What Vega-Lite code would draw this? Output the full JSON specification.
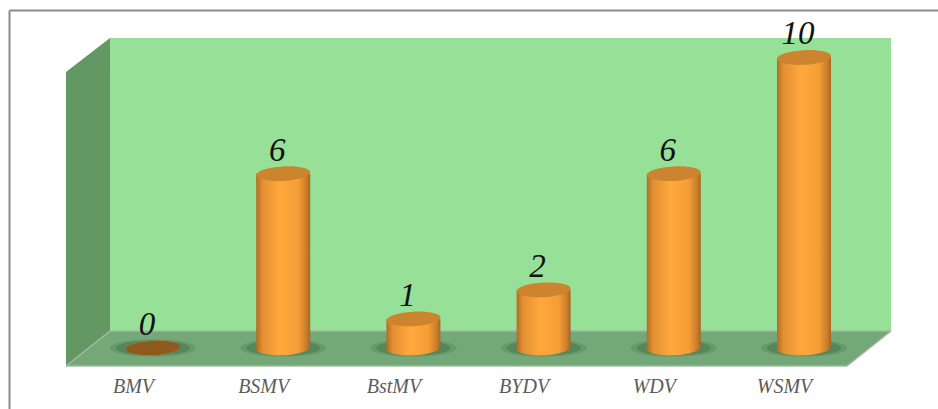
{
  "$schema": "https://vega.github.io/schema/vega-lite/v6.json",
  "width": 938,
  "height": 409,
  "padding": 0,
  "autosize": "none",
  "background": "#ffffff",
  "config": {"view": {"stroke": null}, "scale": {"continuousPadding": 0}},
  "data": {"name": "viruses"},
  "datasets": {
    "viruses": [
      {"virus": "BMV", "index": 0, "value": 0},
      {"virus": "BSMV", "index": 1, "value": 6},
      {"virus": "BstMV", "index": 2, "value": 1},
      {"virus": "BYDV", "index": 3, "value": 2},
      {"virus": "WDV", "index": 4, "value": 6},
      {"virus": "WSMV", "index": 5, "value": 10}
    ],
    "sideWall": [
      {"x": -0.6682, "top": 9.5009, "bottom": -0.6196},
      {"x": -0.3303, "top": 10.6713, "bottom": 0.5852}
    ],
    "backWall": [
      {"left": -0.3303, "right": 5.6682, "top": 10.6713, "bottom": 0.5852}
    ],
    "floor": [
      {"depth": -0.6196, "left": -0.6682, "right": 5.3303},
      {"depth": 0.5852, "left": -0.3303, "right": 5.6682}
    ],
    "floorEdges": [
      {"x0": -0.6682, "x1": 5.3303, "y0": -0.6196, "y1": -0.6196},
      {"x0": -0.6682, "x1": -0.3303, "y0": -0.6196, "y1": 0.5852},
      {"x0": -0.3303, "x1": 5.6682, "y0": 0.5852, "y1": 0.5852},
      {"x0": 5.3303, "x1": 5.6682, "y0": -0.6196, "y1": 0.5852}
    ],
    "frame": [
      {"x0": -1.102, "x1": 6.03, "y0": 11.618, "y1": 11.618},
      {"x0": -1.102, "x1": -1.102, "y0": 11.618, "y1": -2.0998}
    ]
  },
  "layer": [
    {
      "data": {"name": "backWall"},
      "mark": {"type": "rect", "color": "#97e097"},
      "encoding": {
        "x": {"field": "left", "type": "quantitative", "title": null, "scale": {"domain": [-1.1751, 6.0292], "nice": false, "zero": false, "padding": 0},
          "axis": {"values": [0, 1, 2, 3, 4, 5], "labelExpr": "['BMV','BSMV','BstMV','BYDV','WDV','WSMV'][datum.value]", "domain": false, "ticks": false, "grid": false, "offset": -34, "labelPadding": 1, "labelOffset": -20, "labelFont": "Liberation Serif", "labelFontStyle": "italic", "labelFontSize": 20, "labelColor": "#5c5c5c", "labelFlush": false, "labelBound": false, "labelOverlap": false}},
        "x2": {"field": "right"},
        "y": {"field": "top", "type": "quantitative", "title": null, "scale": {"domain": [-2.0998, 11.9793], "nice": false, "zero": false}, "axis": null},
        "y2": {"field": "bottom"}
      }
    },
    {
      "data": {"name": "sideWall"},
      "mark": {"type": "area", "color": "#639863", "orient": "vertical"},
      "encoding": {
        "x": {"field": "x", "type": "quantitative", "title": null, "scale": {"domain": [-1.1751, 6.0292], "nice": false, "zero": false, "padding": 0}},
        "y": {"field": "top", "type": "quantitative", "title": null, "scale": {"domain": [-2.0998, 11.9793], "nice": false, "zero": false}, "axis": null},
        "y2": {"field": "bottom"}
      }
    },
    {
      "data": {"name": "floor"},
      "mark": {"type": "area", "color": "#75a878", "orient": "horizontal"},
      "encoding": {
        "y": {"field": "depth", "type": "quantitative", "title": null, "scale": {"domain": [-2.0998, 11.9793], "nice": false, "zero": false}, "axis": null},
        "x": {"field": "left", "type": "quantitative", "title": null, "scale": {"domain": [-1.1751, 6.0292], "nice": false, "zero": false, "padding": 0}},
        "x2": {"field": "right"}
      }
    },
    {
      "data": {"name": "floorEdges"},
      "mark": {"type": "rule", "color": "#a3b8a5", "strokeWidth": 1.5},
      "encoding": {
        "x": {"field": "x0", "type": "quantitative", "title": null, "scale": {"domain": [-1.1751, 6.0292], "nice": false, "zero": false, "padding": 0}},
        "x2": {"field": "x1"},
        "y": {"field": "y0", "type": "quantitative", "title": null, "scale": {"domain": [-2.0998, 11.9793], "nice": false, "zero": false}, "axis": null},
        "y2": {"field": "y1"}
      }
    },
    {
      "encoding": {
        "x": {"field": "index", "type": "quantitative", "title": null, "scale": {"domain": [-1.1751, 6.0292], "nice": false, "zero": false, "padding": 0}},
        "y": {"datum": 0, "type": "quantitative", "title": null, "scale": {"domain": [-2.0998, 11.9793], "nice": false, "zero": false}, "axis": null}
      },
      "layer": [
        {"mark": {"type": "point", "filled": true, "size": 7400, "color": "#3f6b45", "opacity": 0.25, "shape": "M-1,0C-1,-.12 -.55,-.2 0,-.2C.55,-.2 1,-.12 1,0C1,.12 .55,.2 0,.2C-.55,.2 -1,.12 -1,0Z"}},
        {"mark": {"type": "point", "filled": true, "size": 5500, "color": "#3f6b45", "opacity": 0.4, "shape": "M-1,0C-1,-.12 -.55,-.2 0,-.2C.55,-.2 1,-.12 1,0C1,.12 .55,.2 0,.2C-.55,.2 -1,.12 -1,0Z"}},
        {"mark": {"type": "point", "filled": true, "size": 2916, "opacity": 1, "shape": "M-1,.05C-1,-.099 -.5523,-.2424 0,-.27C.5523,-.2976 1,-.199 1,-.05C1,.099 .5523,.2424 0,.27C-.5523,.2976 -1,.199 -1,.05Z",
          "color": {"gradient": "linear", "x1": 0, "x2": 1, "y1": 0, "y2": 0, "stops": [
            {"offset": 0, "color": "#b06d22"}, {"offset": 0.12, "color": "#e48f33"}, {"offset": 0.45, "color": "#ffa93d"}, {"offset": 0.78, "color": "#f59d36"}, {"offset": 0.93, "color": "#c97d2c"}, {"offset": 1, "color": "#a4661f"}]}}}
      ]
    },
    {
      "mark": {"type": "bar", "orient": "vertical", "size": 54,
        "color": {"gradient": "linear", "x1": 0, "x2": 1, "y1": 0, "y2": 0, "stops": [
          {"offset": 0, "color": "#b06d22"}, {"offset": 0.12, "color": "#e48f33"}, {"offset": 0.45, "color": "#ffa93d"}, {"offset": 0.78, "color": "#f59d36"}, {"offset": 0.93, "color": "#c97d2c"}, {"offset": 1, "color": "#a4661f"}]}},
      "encoding": {
        "x": {"field": "index", "type": "quantitative", "title": null, "scale": {"domain": [-1.1751, 6.0292], "nice": false, "zero": false, "padding": 0}},
        "y": {"field": "value", "type": "quantitative", "title": null, "scale": {"domain": [-2.0998, 11.9793], "nice": false, "zero": false}, "axis": null},
        "y2": {"datum": 0}
      }
    },
    {
      "mark": {"type": "point", "filled": true, "size": 2916, "opacity": 1, "shape": "M-1,.05C-1,-.099 -.5523,-.2424 0,-.27C.5523,-.2976 1,-.199 1,-.05C1,.099 .5523,.2424 0,.27C-.5523,.2976 -1,.199 -1,.05Z"},
      "encoding": {
        "x": {"field": "index", "type": "quantitative", "title": null, "scale": {"domain": [-1.1751, 6.0292], "nice": false, "zero": false, "padding": 0}},
        "y": {"field": "value", "type": "quantitative", "title": null, "scale": {"domain": [-2.0998, 11.9793], "nice": false, "zero": false}, "axis": null},
        "color": {"condition": {"test": "datum.value === 0", "value": "#8f5a1e"}, "value": "#cc842e"}
      }
    },
    {
      "mark": {"type": "text", "font": "Liberation Serif", "fontStyle": "italic", "fontSize": 33, "color": "#111111", "baseline": "alphabetic", "dx": -6, "dy": -13},
      "encoding": {
        "x": {"field": "index", "type": "quantitative", "title": null, "scale": {"domain": [-1.1751, 6.0292], "nice": false, "zero": false, "padding": 0}},
        "y": {"field": "value", "type": "quantitative", "title": null, "scale": {"domain": [-2.0998, 11.9793], "nice": false, "zero": false}, "axis": null},
        "text": {"field": "value", "type": "quantitative"}
      }
    },
    {
      "data": {"name": "frame"},
      "mark": {"type": "rule", "color": "#8c8c8c", "strokeWidth": 2},
      "encoding": {
        "x": {"field": "x0", "type": "quantitative", "title": null, "scale": {"domain": [-1.1751, 6.0292], "nice": false, "zero": false, "padding": 0}},
        "x2": {"field": "x1"},
        "y": {"field": "y0", "type": "quantitative", "title": null, "scale": {"domain": [-2.0998, 11.9793], "nice": false, "zero": false}, "axis": null},
        "y2": {"field": "y1"}
      }
    }
  ]
}
